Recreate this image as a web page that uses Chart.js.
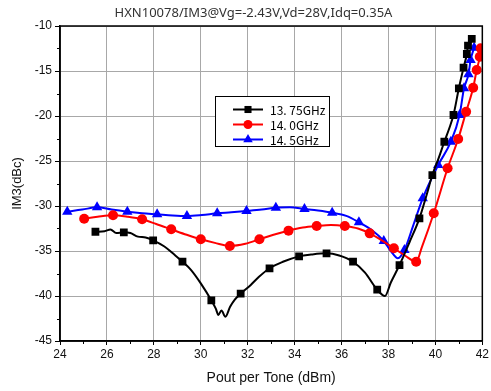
<!DOCTYPE html>
<html>
<head>
<meta charset="utf-8">
<script src="https://cdn.jsdelivr.net/npm/chart.js@4.4.1/dist/chart.umd.min.js"></script>
<style>
  html, body { margin: 0; padding: 0; background: #fff; }
  #wrap { position: relative; width: 491px; height: 391px; }
</style>
</head>
<body>
<div id="wrap"><canvas id="im3Chart" width="491" height="391"></canvas></div>
<script>
// Chart text
const chartTitle = 'HXN10078/IM3@Vg=-2.43V,Vd=28V,Idq=0.35A';
const seriesNames = ['13. 75GHz', '14. 0GHz', '14. 5GHz'];
const xTickValues = [24, 26, 28, 30, 32, 34, 36, 38, 40, 42];
const yTickValues = [-45, -40, -35, -30, -25, -20, -15, -10];

// 13.75GHz (black squares)
const xBlack = [25.51, 25.9, 26.15, 26.4, 26.72, 27.0, 27.32, 27.65, 27.97, 28.45, 28.87, 29.22, 29.58, 30.0, 30.45,
    30.64, 30.75, 30.88, 31.05, 31.25, 31.45, 31.70, 32.12, 32.47, 32.93, 33.5, 34.19, 34.7, 35.36, 35.9, 36.49,
    37.0, 37.52, 37.85, 38.1, 38.47, 38.9, 39.32, 39.6, 39.87, 40.15, 40.38, 40.6, 40.77, 41.0, 41.2, 41.34, 41.39, 41.55];
const yBlack = [-32.86, -32.8, -32.6, -33.0, -32.92, -33.0, -33.4, -33.5, -33.81, -34.5, -35.4, -36.19, -37.1, -38.6, -40.48,
    -41.4, -42.1, -41.6, -42.3, -41.2, -40.4, -39.74, -38.8, -37.9, -36.92, -36.2, -35.6, -35.4, -35.26, -35.5, -36.19,
    -37.4, -39.3, -40.0, -38.5, -36.56, -34.0, -31.37, -29.0, -26.56, -24.6, -22.86, -21.3, -19.89, -16.92, -14.63, -13.11, -12.19, -11.44];
const markBlack = [0, 4, 8, 11, 14, 21, 24, 26, 28, 30, 32, 35, 37, 39, 41, 43, 44, 45, 46, 47, 48];

// 14.0GHz (red circles)
const xRed = [25.03, 25.6, 26.26, 26.9, 27.5, 28.1, 28.74, 29.4, 30.0, 30.6, 31.24, 31.9, 32.5, 33.1, 33.74, 34.35,
    34.94, 35.55, 36.14, 36.7, 37.2, 37.7, 38.23, 38.7, 39.18, 39.42, 39.93, 40.52, 40.97, 41.31, 41.61, 41.76, 41.89, 41.93];
const yRed = [-31.41, -31.2, -31.03, -31.2, -31.48, -32.0, -32.59, -33.2, -33.7, -34.1, -34.44, -34.2, -33.7, -33.2, -32.74, -32.4,
    -32.22, -32.1, -32.22, -32.5, -33.04, -33.8, -34.7, -35.5, -36.19, -34.6, -30.81, -25.81, -22.56, -19.52, -16.86, -14.89, -13.41, -12.48];
const markRed = [0, 2, 4, 6, 8, 10, 12, 14, 16, 18, 20, 22, 24, 26, 27, 28, 29, 30, 31, 32, 33];

// 14.5GHz (blue triangles)
const xBlue = [24.31, 24.95, 25.58, 26.2, 26.87, 27.5, 28.14, 28.8, 29.41, 30.05, 30.70, 31.3, 31.95, 32.6, 33.20, 33.8,
    34.42, 35.0, 35.6, 36.2, 36.74, 37.3, 37.80, 38.1, 38.40, 38.68, 39.05, 39.46, 40.12, 40.66, 41.03, 41.22, 41.41, 41.50, 41.65];
const yBlue = [-30.63, -30.4, -30.14, -30.4, -30.63, -30.8, -30.92, -31.05, -31.11, -31.0, -30.81, -30.7, -30.56, -30.4, -30.19, -30.15,
    -30.33, -30.5, -30.74, -31.1, -31.81, -32.7, -33.89, -35.0, -35.81, -34.89, -32.2, -29.14, -25.44, -22.86, -19.89, -16.92, -15.37, -13.78, -12.41];
const markBlue = [0, 2, 4, 6, 8, 10, 12, 14, 16, 18, 20, 22, 25, 27, 28, 29, 30, 31, 32, 33, 34];

const toPoints = (xs, ys) => xs.map((x, i) => ({ x: x, y: ys[i] }));

const seriesStyle = [
    { color: '#000000', style: 'rect', radius: 5.5 },
    { color: '#ff0000', style: 'circle', radius: 5 },
    { color: '#0000ff', style: 'triangle', radius: 6 }
];

function makeDataset(idx, xs, ys, marks) {
    const s = seriesStyle[idx];
    const markSet = new Set(marks);
    return {
        label: seriesNames[idx],
        data: toPoints(xs, ys),
        borderColor: s.color,
        backgroundColor: s.color,
        borderWidth: 2,
        cubicInterpolationMode: 'monotone',
        pointStyle: s.style,
        pointRadius: ctx => markSet.has(ctx.dataIndex) ? s.radius : 0,
        pointBorderWidth: 0,
        pointHoverRadius: 0
    };
}

// minor ticks, frame, title and boxed legend
const decorPlugin = {
    id: 'decor',
    afterDraw(chart) {
        const c = chart.ctx;
        const area = chart.chartArea;
        const xs = chart.scales.x;
        const ys = chart.scales.y;
        c.save();
        c.strokeStyle = '#000';
        c.lineWidth = 1;
        for (let v = 25; v < 42; v += 2) {
            const px = Math.round(xs.getPixelForValue(v)) + 0.5;
            c.beginPath(); c.moveTo(px, area.bottom); c.lineTo(px, area.bottom + 3); c.stroke();
        }
        for (let v = -42.5; v < -10; v += 5) {
            const py = Math.round(ys.getPixelForValue(v)) + 0.5;
            c.beginPath(); c.moveTo(area.left, py); c.lineTo(area.left - 3, py); c.stroke();
        }
        c.lineWidth = 1.5;
        c.strokeRect(area.left, area.top, area.right - area.left, area.bottom - area.top);

        c.fillStyle = '#333';
        c.font = '13px "Noto Sans"';
        c.textAlign = 'center';
        c.textBaseline = 'middle';
        c.fillText(chartTitle, 253.5, 13);

        // legend box
        const bx = 215.5, by = 96.5, bw = 114, bh = 50;
        c.fillStyle = '#fff';
        c.fillRect(bx, by, bw, bh);
        c.lineWidth = 1;
        c.strokeStyle = '#000';
        c.strokeRect(bx, by, bw, bh);
        c.font = '12px "Noto Sans CJK SC"';
        c.textAlign = 'left';
        seriesNames.forEach((name, i) => {
            const s = seriesStyle[i];
            const ry = 109.5 + i * 15;
            c.strokeStyle = s.color;
            c.fillStyle = s.color;
            c.lineWidth = 2;
            c.beginPath(); c.moveTo(233, ry); c.lineTo(263, ry); c.stroke();
            Chart.helpers.drawPoint(c, { pointStyle: s.style, radius: s.radius - 0.5, borderWidth: 0 }, 248, ry);
            c.fillStyle = '#000';
            c.fillText(name, 270, ry + 1);
        });
        c.restore();
    }
};

const tickFont = { family: '"Liberation Sans", Arial, sans-serif', size: 12 };

new Chart(document.getElementById('im3Chart'), {
    type: 'line',
    data: {
        datasets: [
            makeDataset(0, xBlack, yBlack, markBlack),
            makeDataset(1, xRed, yRed, markRed),
            makeDataset(2, xBlue, yBlue, markBlue)
        ]
    },
    options: {
        responsive: false,
        animation: false,
        events: [],
        layout: { padding: { top: 26, right: 6, left: 0, bottom: 0 } },
        plugins: {
            legend: { display: false },
            tooltip: { enabled: false }
        },
        scales: {
            x: {
                type: 'linear',
                min: 24,
                max: 42,
                afterBuildTicks: axis => { axis.ticks = xTickValues.map(v => ({ value: v })); },
                afterFit: axis => { axis.height = 50; },
                ticks: { color: '#111', font: tickFont, padding: 2 },
                grid: { color: '#a8a8a8', lineWidth: 1, tickLength: 4, tickColor: '#000' },
                border: { color: '#000', width: 1.5 },
                title: {
                    display: true,
                    text: 'Pout per Tone (dBm)',
                    color: '#111',
                    font: { family: '"Liberation Sans", Arial, sans-serif', size: 14 },
                    padding: { top: 0, bottom: 4 }
                }
            },
            y: {
                type: 'linear',
                min: -45,
                max: -10,
                afterBuildTicks: axis => { axis.ticks = yTickValues.map(v => ({ value: v })); },
                afterFit: axis => { axis.width = 60; },
                ticks: { color: '#111', font: tickFont, padding: 3 },
                grid: { color: '#a8a8a8', lineWidth: 1, tickLength: 5, tickColor: '#000' },
                border: { color: '#000', width: 1.5 },
                title: {
                    display: true,
                    text: 'IM3(dBc)',
                    color: '#111',
                    font: { family: '"Liberation Sans", Arial, sans-serif', size: 13 },
                    padding: { top: 10, bottom: 0 }
                }
            }
        }
    },
    plugins: [decorPlugin]
});
</script>
</body>
</html>
